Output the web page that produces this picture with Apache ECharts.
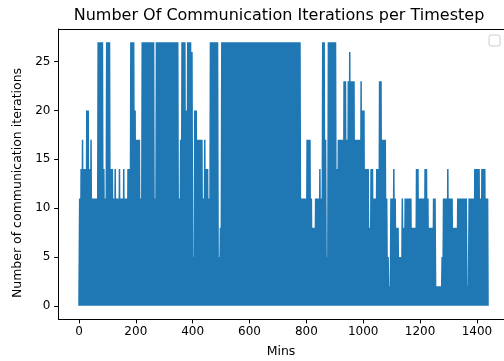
<!DOCTYPE html>
<html>
<head>
<meta charset="utf-8">
<script src="https://cdn.jsdelivr.net/npm/echarts@6/dist/echarts.min.js"></script>
<style>
html,body{margin:0;padding:0;background:#fff;}
#chart{width:504px;height:361px;}
</style>
</head>
<body>
<div id="chart"></div>
<script>
// Peak number of communication iterations in each 5-minute bin,
// the series drops back to 0 between iterations.
const binWidthMins = 5;
const peakIterations = [
  11,14,17,14,14,20,20,14,17,11,11,11,
  11,27,27,27,27,14,11,27,27,27,14,14,
  11,14,11,11,14,11,11,14,11,11,14,14,
  27,27,27,20,17,17,17,11,27,27,27,27,
  27,27,27,27,27,11,27,27,27,27,27,27,
  27,27,27,27,27,27,27,27,27,27,11,17,
  27,27,27,20,27,27,27,26,5,20,20,17,
  17,17,17,11,17,14,14,11,27,27,27,27,
  27,27,5,8,27,27,27,27,27,27,27,27,
  27,27,27,27,27,27,27,27,27,27,27,27,
  27,27,27,27,27,27,27,27,27,27,27,27,
  27,27,27,27,27,27,27,27,27,27,27,27,
  27,27,27,27,27,27,27,27,27,27,27,27,
  11,11,11,11,17,17,17,11,8,8,11,11,
  11,14,11,27,27,17,5,27,27,27,27,27,
  27,14,17,17,17,17,23,23,17,23,26,23,
  23,23,17,17,17,17,23,20,20,14,14,14,
  8,14,14,11,11,14,14,23,23,17,17,17,
  11,5,2,11,11,14,11,8,8,5,5,11,
  8,11,11,11,11,11,8,8,8,14,14,11,
  11,11,11,14,14,11,8,8,8,11,11,2,
  2,2,2,5,11,11,11,14,11,11,11,8,
  8,8,11,11,11,11,11,11,11,2,11,11,
  11,11,14,14,14,14,11,14,14,14,11,11
];
const lastMinute = 1439;
const xTicks = [0,200,400,600,800,1000,1200,1400];
const yTicks = [0,5,10,15,20,25];
const titleText = 'Number Of Communication Iterations per Timestep';
const xLabelText = 'Mins';
const yLabelText = 'Number of communication iterations';

const seriesData = [];
peakIterations.forEach(function (v, i) {
  seriesData.push([i * binWidthMins, 0]);
  seriesData.push([i * binWidthMins + binWidthMins / 2, v]);
});
seriesData.push([lastMinute, 0]);

const FONT = 'DejaVu Sans';
const plain = function (v) { return String(v); };
const chart = echarts.init(document.getElementById('chart'), null, {renderer: 'canvas'});
chart.setOption({
  animation: false,
  backgroundColor: '#fff',
  grid: {left: 58.5, top: 29, width: 450, height: 290, show: false, containLabel: false, outerBoundsMode: 'none'},
  xAxis: [{
    type: 'value', min: -72, max: 1511, position: 'bottom',
    splitLine: {show: false},
    axisLine: {show: true, onZero: false, lineStyle: {color: '#000', width: 1}},
    axisTick: {show: true, inside: false, length: 4.4, customValues: xTicks, lineStyle: {color: '#000', width: 1}},
    axisLabel: {show: true, customValues: xTicks, formatter: plain, margin: 7, color: '#000', fontFamily: FONT, fontSize: 12}
  }, {
    type: 'value', min: -72, max: 1511, position: 'top',
    splitLine: {show: false},
    axisLine: {show: true, onZero: false, lineStyle: {color: '#000', width: 1}},
    axisTick: {show: false},
    axisLabel: {show: false}
  }],
  yAxis: {
    type: 'value', min: -1.35, max: 28.35,
    splitLine: {show: false},
    axisLine: {show: true, onZero: false, lineStyle: {color: '#000', width: 1}},
    axisTick: {show: true, inside: false, length: 4.4, customValues: yTicks, lineStyle: {color: '#000', width: 1}},
    axisLabel: {show: true, customValues: yTicks, formatter: plain, margin: 8, color: '#000', fontFamily: FONT, fontSize: 12}
  },
  series: [{
    type: 'line',
    xAxisIndex: 0,
    data: seriesData,
    showSymbol: false,
    symbol: 'none',
    sampling: null,
    clip: true,
    lineStyle: {color: '#1f77b4', width: 1.5, join: 'bevel'},
    itemStyle: {color: '#1f77b4'}
  }],
  graphic: [
    {type: 'text', x: 279, y: 16, style: {text: titleText, fill: '#000', font: '16px "DejaVu Sans"', textAlign: 'center', textVerticalAlign: 'middle'}},
    {type: 'text', x: 281, y: 352, style: {text: xLabelText, fill: '#000', font: '12.5px "DejaVu Sans"', textAlign: 'center', textVerticalAlign: 'middle'}},
    {type: 'text', x: 18, y: 183, rotation: Math.PI / 2, style: {text: yLabelText, fill: '#000', font: '12.5px "DejaVu Sans"', textAlign: 'center', textVerticalAlign: 'middle'}},
    {type: 'rect', shape: {x: 489, y: 35, width: 11, height: 11, r: 2}, style: {fill: '#fff', stroke: '#cccccc', lineWidth: 1}}
  ]
});
</script>
</body>
</html>
